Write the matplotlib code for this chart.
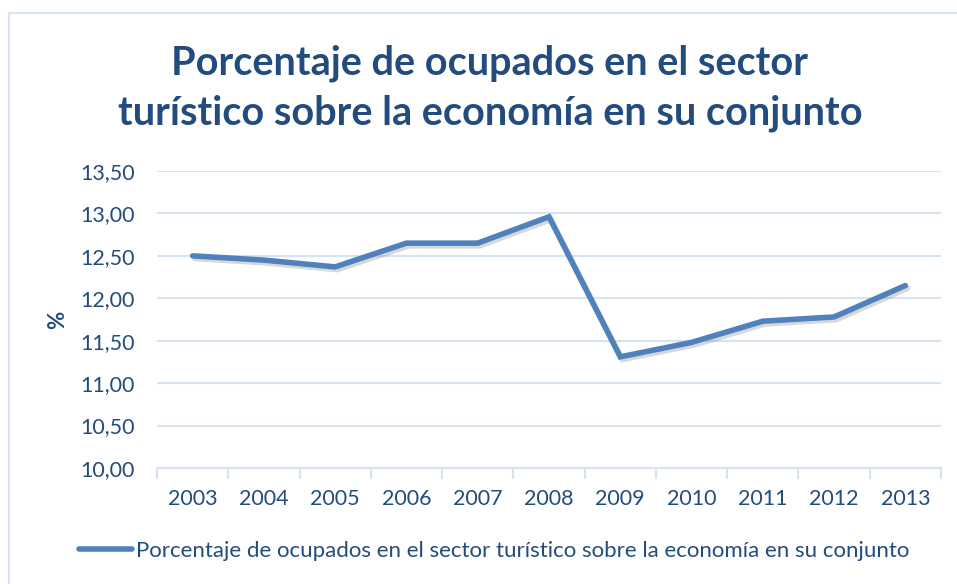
import matplotlib.pyplot as plt
import matplotlib.patheffects as pe
from matplotlib.lines import Line2D
from matplotlib.ticker import FixedLocator, FuncFormatter

years = ["2003", "2004", "2005", "2006", "2007", "2008", "2009", "2010", "2011", "2012", "2013"]
values = [12.50, 12.45, 12.37, 12.65, 12.65, 12.96, 11.31, 11.48, 11.73, 11.78, 12.15]
series_name = "Porcentaje de ocupados en el sector turístico sobre la economía en su conjunto"
title = "Porcentaje de ocupados en el sector\nturístico sobre la economía en su conjunto"

dark = "#234C7E"
line_col = "#4F81BD"
grid_col = "#D6E3F3"

plt.rcParams["font.family"] = ["Lato", "DejaVu Sans"]

fig = plt.figure(figsize=(9.57, 5.84), dpi=100)
W, H = 957, 584
ax = fig.add_axes([157 / W, 1 - 468 / H, (941 - 157) / W, (468 - 171) / H])

x = list(range(len(years)))
ax.plot(x, values, color=line_col, lw=4, solid_capstyle="round", solid_joinstyle="miter",
        path_effects=[pe.SimpleLineShadow(offset=(1.5, -2), shadow_color="gray", alpha=0.3),
                      pe.Normal()], zorder=3)

ax.set_xlim(-0.5, len(years) - 0.5)
ax.set_ylim(10, 13.5)
ax.set_yticks([10 + 0.5 * i for i in range(8)])
ax.yaxis.set_major_formatter(FuncFormatter(lambda v, p: f"{v:.2f}".replace(".", ",")))
ax.set_xticks(x)
ax.set_xticklabels(years)
ax.xaxis.set_minor_locator(FixedLocator([i - 0.5 for i in range(len(years) + 1)]))
ax.tick_params(axis="x", which="major", length=0, pad=15, labelsize=15.5, labelcolor=dark)
ax.tick_params(axis="x", which="minor", length=8, width=1.5, color=grid_col)
ax.tick_params(axis="y", length=0, pad=16, labelsize=15.5, labelcolor=dark)
ax.grid(axis="y", color=grid_col, lw=1.5, zorder=0)
for s in ["top", "right", "left"]:
    ax.spines[s].set_visible(False)
ax.spines["bottom"].set_color(grid_col)
ax.spines["bottom"].set_linewidth(1.5)
ax.set_axisbelow(True)

ax.set_ylabel("%", fontsize=16, fontweight="bold", color=dark, labelpad=9)

fig.text(490 / W, 1 - 88 / H, title, ha="center", va="center", fontsize=28.5,
         fontweight="bold", color=dark, linespacing=1.42)

# legend
handle = Line2D([0], [0], color=line_col, lw=4, solid_capstyle="round")
fig.legend([handle], [series_name], loc="center", bbox_to_anchor=(494 / W, 1 - 551 / H),
           frameon=False, fontsize=16, labelcolor=dark, handlelength=2.4, handletextpad=0.15)

# chart frame (left and top visible)
fig.add_artist(Line2D([9 / W, 9 / W], [0, 1 - 13 / H], color=grid_col, lw=1.5))
fig.add_artist(Line2D([9 / W, 1], [1 - 13 / H, 1 - 13 / H], color=grid_col, lw=1.5))

fig.savefig("out.png", dpi=100)
